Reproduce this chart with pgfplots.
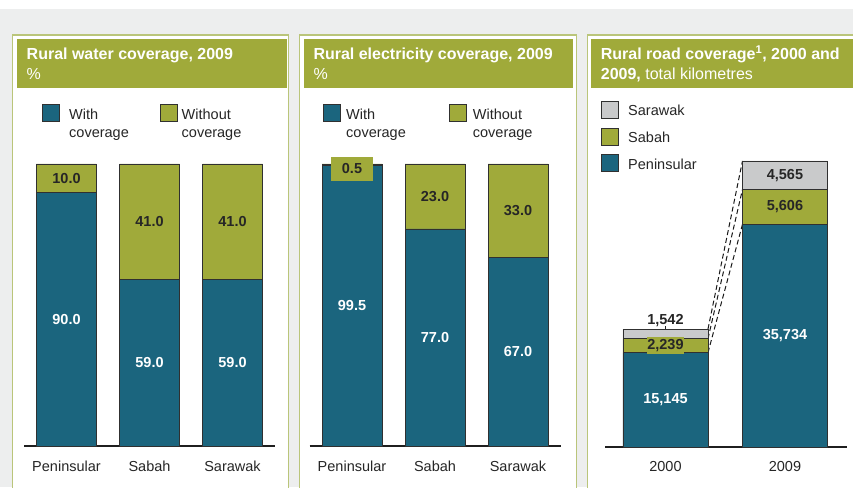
\documentclass[border=0pt]{standalone}
\usepackage{pgfplots}
\pgfplotsset{compat=1.18}
\usepackage{fontspec}
\setmainfont{Liberation Sans}
\definecolor{cBlue}{HTML}{1B657E}
\definecolor{cOlive}{HTML}{A0AA3A}
\definecolor{cGrey}{HTML}{C9CACB}
\definecolor{cBg}{HTML}{EDEEEE}
\definecolor{cBorder}{HTML}{BAC57A}
\definecolor{cText}{HTML}{262626}
\definecolor{cEdge}{HTML}{303030}
\newcommand{\fs}{\fontsize{14.5}{18}\selectfont}
\newcommand{\ft}{\fontsize{16}{20}\selectfont}
\pgfplotsset{
  panel/.style={
    scale only axis, anchor=south west, clip=false,
    ybar stacked, ymin=0,
    axis x line*=bottom, axis y line=none,
    x axis line style={line width=1.6pt, draw=black!88, -},
    major tick length=0pt, xtick style={draw=none},
    xticklabel style={font=\fs, text=cText, yshift=-11pt},
  },
  lab/.style={
    visualization depends on={value \thisrow{lab} \as \lab},
    visualization depends on={value \thisrow{off} \as \off},
    nodes near coords={\lab},
    every node near coord/.append style={font=\fs\bfseries, anchor=center, inner sep=1pt, yshift={\off}, #1},
  },
  bar/.style={fill=#1, draw=cEdge, line width=0.7pt},
}
\begin{document}
\begin{tikzpicture}
% background
\fill[white] (0pt,0pt) rectangle (853pt,487pt);
\fill[cBg] (0pt,0pt) rectangle (853pt,478pt);
% panels
\filldraw[fill=white, draw=cBorder, line width=1.3pt] (12.8pt,-10pt) rectangle (288.8pt,452pt);
\filldraw[fill=white, draw=cBorder, line width=1.3pt] (299.5pt,-10pt) rectangle (576.5pt,452pt);
\filldraw[fill=white, draw=cBorder, line width=1.3pt] (587.2pt,-10pt) rectangle (880pt,452pt);
\fill[cOlive] (16.7pt,399pt) rectangle (286.5pt,448pt);
\fill[cOlive] (304pt,399pt) rectangle (572.7pt,448pt);
\fill[cOlive] (591pt,399pt) rectangle (880pt,448pt);
% titles
\node[anchor=base west, inner sep=0, text=white, font=\ft\bfseries] at (26.5pt,427pt) {Rural water coverage, 2009};
\node[anchor=base west, inner sep=0, text=white, font=\ft] at (26.5pt,407pt) {\%};
\node[anchor=base west, inner sep=0, text=white, font=\ft\bfseries] at (313.3pt,427pt) {Rural electricity coverage, 2009};
\node[anchor=base west, inner sep=0, text=white, font=\ft] at (313.3pt,407pt) {\%};
\node[anchor=base west, inner sep=0, text=white, font=\ft\bfseries] at (600.7pt,427pt) {Rural road coverage\textsuperscript{1}, 2000 and};
\node[anchor=base west, inner sep=0, text=white, font=\ft] at (600.7pt,407pt) {\textbf{2009,} total kilometres};
% legends panel 1
\filldraw[fill=cBlue, draw=cEdge, line width=0.8pt] (42pt,365.5pt) rectangle (59pt,382.5pt);
\node[anchor=base west, inner sep=0, text=cText, font=\fs] at (69pt,367pt) {With};
\node[anchor=base west, inner sep=0, text=cText, font=\fs] at (69pt,349.3pt) {coverage};
\filldraw[fill=cOlive, draw=cEdge, line width=0.8pt] (160pt,365.5pt) rectangle (177pt,382.5pt);
\node[anchor=base west, inner sep=0, text=cText, font=\fs] at (181.5pt,367pt) {Without};
\node[anchor=base west, inner sep=0, text=cText, font=\fs] at (181.5pt,349.3pt) {coverage};
% legends panel 2
\filldraw[fill=cBlue, draw=cEdge, line width=0.8pt] (323pt,365.5pt) rectangle (340pt,382.5pt);
\node[anchor=base west, inner sep=0, text=cText, font=\fs] at (346pt,367pt) {With};
\node[anchor=base west, inner sep=0, text=cText, font=\fs] at (346pt,349.3pt) {coverage};
\filldraw[fill=cOlive, draw=cEdge, line width=0.8pt] (449pt,365.5pt) rectangle (466pt,382.5pt);
\node[anchor=base west, inner sep=0, text=cText, font=\fs] at (472.7pt,367pt) {Without};
\node[anchor=base west, inner sep=0, text=cText, font=\fs] at (472.7pt,349.3pt) {coverage};
% legends panel 3
\filldraw[fill=cGrey, draw=cEdge, line width=0.8pt] (601pt,369pt) rectangle (618pt,385.5pt);
\node[anchor=base west, inner sep=0, text=cText, font=\fs] at (628pt,371.3pt) {Sarawak};
\filldraw[fill=cOlive, draw=cEdge, line width=0.8pt] (601pt,342pt) rectangle (618pt,358.7pt);
\node[anchor=base west, inner sep=0, text=cText, font=\fs] at (628pt,344.3pt) {Sabah};
\filldraw[fill=cBlue, draw=cEdge, line width=0.8pt] (601pt,315.3pt) rectangle (618pt,332.7pt);
\node[anchor=base west, inner sep=0, text=cText, font=\fs] at (628pt,317.7pt) {Peninsular};

% ---------- Panel 1: water
\begin{axis}[panel, at={(24pt,41pt)}, width=251pt, height=282pt,
  xmin=-0.512, xmax=2.512, ymax=100, bar width=60pt,
  xtick={0,1,2}, xticklabels={Peninsular,Sabah,Sarawak}]
\addplot[bar=cBlue, lab={text=white}] table {
x y lab off
0 90 90.0 0
1 59 59.0 0
2 59 59.0 0
};
\addplot[bar=cOlive, lab={text=cText}] table {
x y lab off
0 10 10.0 0
1 41 41.0 0
2 41 41.0 0
};
\end{axis}

% ---------- Panel 2: electricity
\begin{axis}[panel, at={(309.5pt,41pt)}, width=251pt, height=282pt,
  xmin=-0.512, xmax=2.512, ymax=100, bar width=60pt,
  xtick={0,1,2}, xticklabels={Peninsular,Sabah,Sarawak}]
\addplot[bar=cBlue, lab={text=white}] table {
x y lab off
0 99.5 99.5 0
1 77 77.0 0
2 67 67.0 0
};
\addplot[bar=cOlive, lab={text=cText, fill=cOlive, minimum width=42pt, minimum height=24pt, inner sep=0pt}] table {
x y lab off
0 0.5 0.5 -3.8
1 23 23.0 0
2 33 33.0 0
};
\end{axis}

% ---------- Panel 3: roads
\begin{axis}[panel, at={(605pt,40pt)}, width=242pt, height=286.6pt,
  xmin=-0.506, xmax=1.519, ymax=46000, bar width=85pt,
  xtick={0,1}, xticklabels={2000,2009}]
\addplot[bar=cBlue, lab={text=white}] table {
x y lab off
0 15145 15,145 0
1 35734 35,734 0
};
\addplot[bar=cOlive, lab={text=cText, fill=cOlive, inner xsep=0.5pt, inner ysep=2pt}] table {
x y lab off
0 2239 2,239 0
1 5606 5,606 0
};
\addplot[bar=cGrey, lab={text=cText}] table {
x y lab off
0 1542 1,542 12.9
1 4565 4,565 0
};
\draw[line width=1.7pt, cText] (axis cs:0,18155) -- ++(0pt,7.5pt);
\draw[dash pattern=on 5pt off 3pt, line width=1pt, black!90]
  ([xshift=42.5pt]axis cs:0,15145) -- ([xshift=-42.5pt]axis cs:1,35734);
\draw[dash pattern=on 5pt off 3pt, line width=1pt, black!90]
  ([xshift=42.5pt]axis cs:0,17384) -- ([xshift=-42.5pt]axis cs:1,41340);
\draw[dash pattern=on 5pt off 3pt, line width=1pt, black!90]
  ([xshift=42.5pt]axis cs:0,18926) -- ([xshift=-42.5pt]axis cs:1,45905);
\end{axis}
\pgfresetboundingbox
\path[use as bounding box] (0pt,0pt) rectangle (853pt,487pt);
\end{tikzpicture}
\end{document}
